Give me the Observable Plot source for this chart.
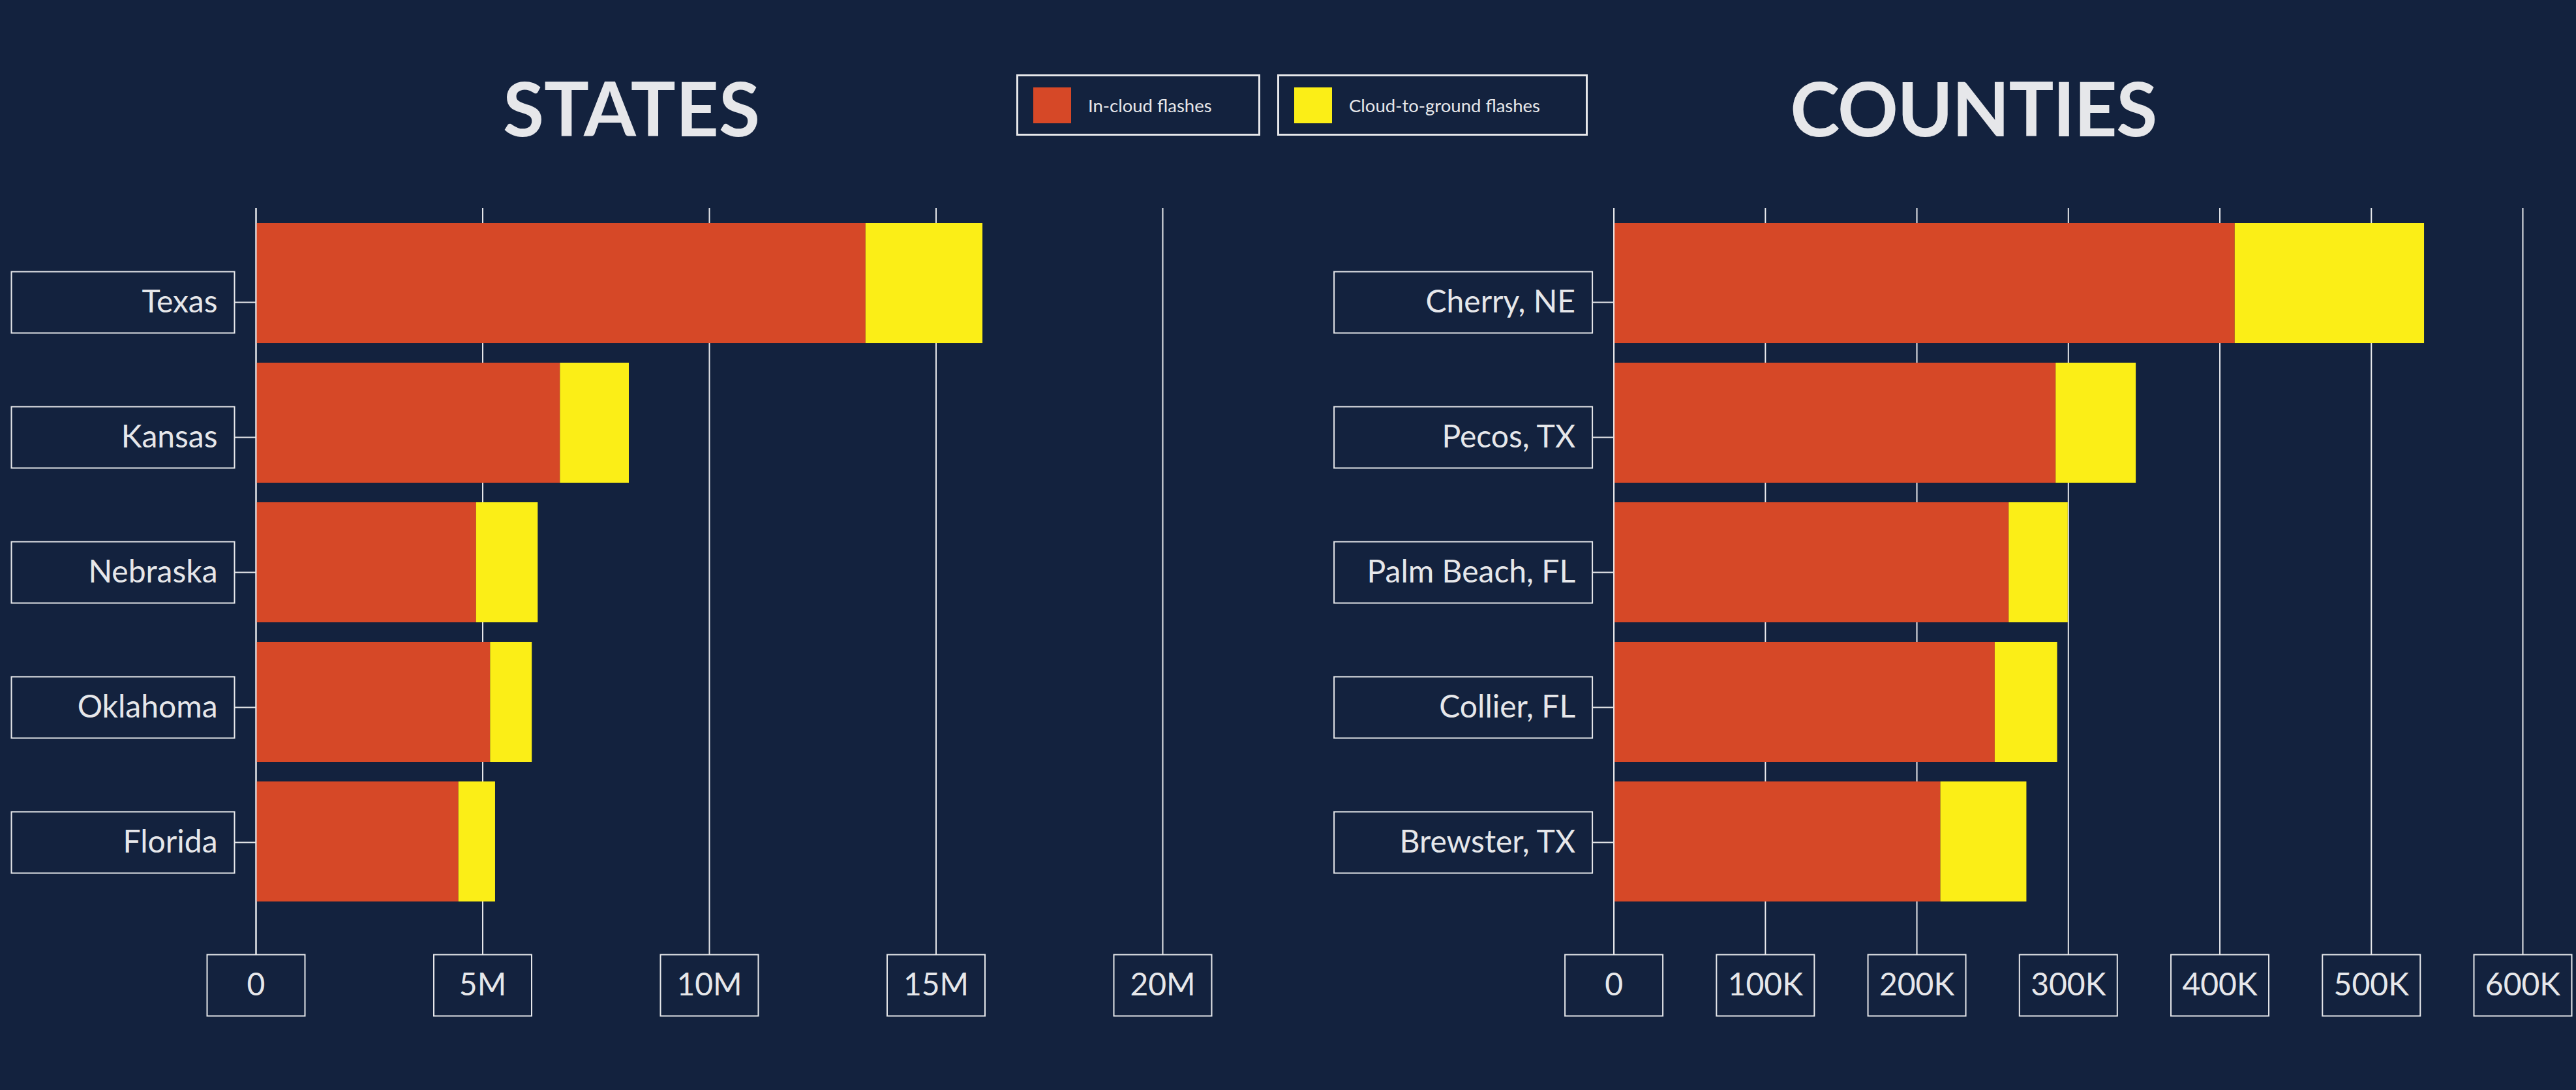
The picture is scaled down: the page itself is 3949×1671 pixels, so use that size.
<!DOCTYPE html>
<html>
<head>
<meta charset="utf-8">
<script src="https://cdn.jsdelivr.net/npm/d3@7"></script>
<script src="https://cdn.jsdelivr.net/npm/@observablehq/plot@0.6"></script>
<style>
  html, body { margin: 0; padding: 0; background: #13223e; }
  #page { position: relative; width: 3949px; height: 1671px; background: #13223e; overflow: hidden; font-family: Lato, "Noto Sans", sans-serif; color: #e6e7ea; }
  .title { position: absolute; top: 107px; font-size: 115px; line-height: 1; font-weight: 700; transform: translateX(-50%); white-space: nowrap; }
  .legend-item { position: absolute; top: 114px; height: 94px; box-sizing: border-box; border: 3px solid #e6e7ea; display: flex; align-items: center; }
  .swatch { width: 58px; height: 55px; margin-left: 23px; margin-right: 26px; }
  .legend-item span { font-size: 27.5px; white-space: nowrap; }
  .panel { position: absolute; top: 300px; height: 1371px; }
  .panel svg { position: absolute; left: 0; top: 0; }
</style>
</head>
<body>
<div id="page">
  <div class="title" style="left:968px">STATES</div>
  <div class="title" style="left:3025px;letter-spacing:-1.5px">COUNTIES</div>
  <div id="legend"></div>
  <div class="panel" id="left" style="left:0px;width:1974px"></div>
  <div class="panel" id="right" style="left:1974px;width:1975px"></div>
</div>
<script>
// ---- data ----
const seriesNames = ["In-cloud flashes", "Cloud-to-ground flashes"];
const seriesColors = ["#d64827", "#fbee17"];

const states = ["Texas", "Kansas", "Nebraska", "Oklahoma", "Florida"];
const statesInCloud = [13.45e6, 6.71e6, 4.86e6, 5.17e6, 4.47e6];
const statesCloudToGround = [2.58e6, 1.52e6, 1.36e6, 0.92e6, 0.81e6];
const statesTicks = [0, 5e6, 10e6, 15e6, 20e6];
const statesTickLabels = ["0", "5M", "10M", "15M", "20M"];

const counties = ["Cherry, NE", "Pecos, TX", "Palm Beach, FL", "Collier, FL", "Brewster, TX"];
const countiesInCloud = [410e3, 291.8e3, 260.8e3, 251.6e3, 215.7e3];
const countiesCloudToGround = [125e3, 52.9e3, 39e3, 41.2e3, 56.8e3];
const countiesTicks = [0, 100e3, 200e3, 300e3, 400e3, 500e3, 600e3];
const countiesTickLabels = ["0", "100K", "200K", "300K", "400K", "500K", "600K"];

// ---- styling ----
const BG = "#13223e";
const FG = "#e6e7ea";
const FONT = "Lato, 'Noto Sans', sans-serif";
const LABEL_SIZE = 48;

function rectSymbol(w, h) {
  return {
    draw(ctx) {
      ctx.moveTo(-w / 2, -h / 2);
      ctx.lineTo(w / 2, -h / 2);
      ctx.lineTo(w / 2, h / 2);
      ctx.lineTo(-w / 2, h / 2);
      ctx.closePath();
    }
  };
}

// legend
const legend = document.getElementById("legend");
const legendLefts = [1558, 1958];
const legendWidths = [374, 476];
seriesNames.forEach((name, i) => {
  const item = document.createElement("div");
  item.className = "legend-item";
  item.style.left = legendLefts[i] + "px";
  item.style.width = legendWidths[i] + "px";
  const sw = document.createElement("div");
  sw.className = "swatch";
  sw.style.background = seriesColors[i];
  const tx = document.createElement("span");
  tx.textContent = name;
  item.appendChild(sw);
  item.appendChild(tx);
  legend.appendChild(item);
});

function panel(el, {names, inCloud, cg, ticks, tickLabels, width, marginLeft, marginRight, labelBoxWidth}) {
  const height = 1371;
  const marginTop = 42;
  const marginBottom = 289;
  const table = names.flatMap((n, i) => [
    {name: n, type: seriesNames[0], value: inCloud[i]},
    {name: n, type: seriesNames[1], value: cg[i]}
  ]);
  const main = Plot.plot({
    width, height, marginTop, marginBottom, marginLeft, marginRight,
    style: {background: "transparent", color: FG, fontFamily: FONT},
    x: {domain: [0, ticks[ticks.length - 1]], axis: null},
    y: {domain: names, paddingInner: 0.14, paddingOuter: 0, round: false, axis: null},
    color: {domain: seriesNames, range: seriesColors},
    marks: [
      Plot.ruleX(ticks, {x: d => d, stroke: FG, strokeWidth: 2, insetTop: -23, insetBottom: -81}),
      Plot.barX(table, {x: "value", y: "name", fill: "type"}),
      Plot.ruleX([0], {stroke: FG, strokeWidth: 2, insetTop: -23, insetBottom: -81}),
      Plot.dot(ticks, {x: d => d, frameAnchor: "bottom", dy: 128, symbol: rectSymbol(150, 94), fill: BG, stroke: FG, strokeWidth: 2}),
      Plot.text(ticks, {x: d => d, text: tickLabels, frameAnchor: "bottom", dy: 128, lineAnchor: "middle", fontSize: LABEL_SIZE, fill: FG, fontFamily: FONT})
    ]
  });
  // label overlay with its own point scale
  const labels = Plot.plot({
    width, height,
    marginTop: 162.2, marginBottom: 379.2, marginLeft, marginRight,
    style: {background: "transparent", color: FG, fontFamily: FONT},
    y: {type: "point", domain: names, padding: 0},
    marks: [
      Plot.dot(names, {y: d => d, frameAnchor: "left", dx: -(33 + labelBoxWidth / 2), symbol: rectSymbol(labelBoxWidth, 94), fill: BG, stroke: FG, strokeWidth: 2}),
      Plot.axisY({tickSize: 33, tickPadding: 26, fontSize: LABEL_SIZE, strokeWidth: 2, label: null, stroke: FG, fill: FG})
    ]
  });
  el.appendChild(main);
  el.appendChild(labels);
}

panel(document.getElementById("left"), {
  names: states, inCloud: statesInCloud, cg: statesCloudToGround,
  ticks: statesTicks, tickLabels: statesTickLabels,
  width: 1974, marginLeft: 392, marginRight: 192, labelBoxWidth: 342
});
panel(document.getElementById("right"), {
  names: counties, inCloud: countiesInCloud, cg: countiesCloudToGround,
  ticks: countiesTicks, tickLabels: countiesTickLabels,
  width: 1975, marginLeft: 499.6, marginRight: 82, labelBoxWidth: 396
});
</script>
</body>
</html>
